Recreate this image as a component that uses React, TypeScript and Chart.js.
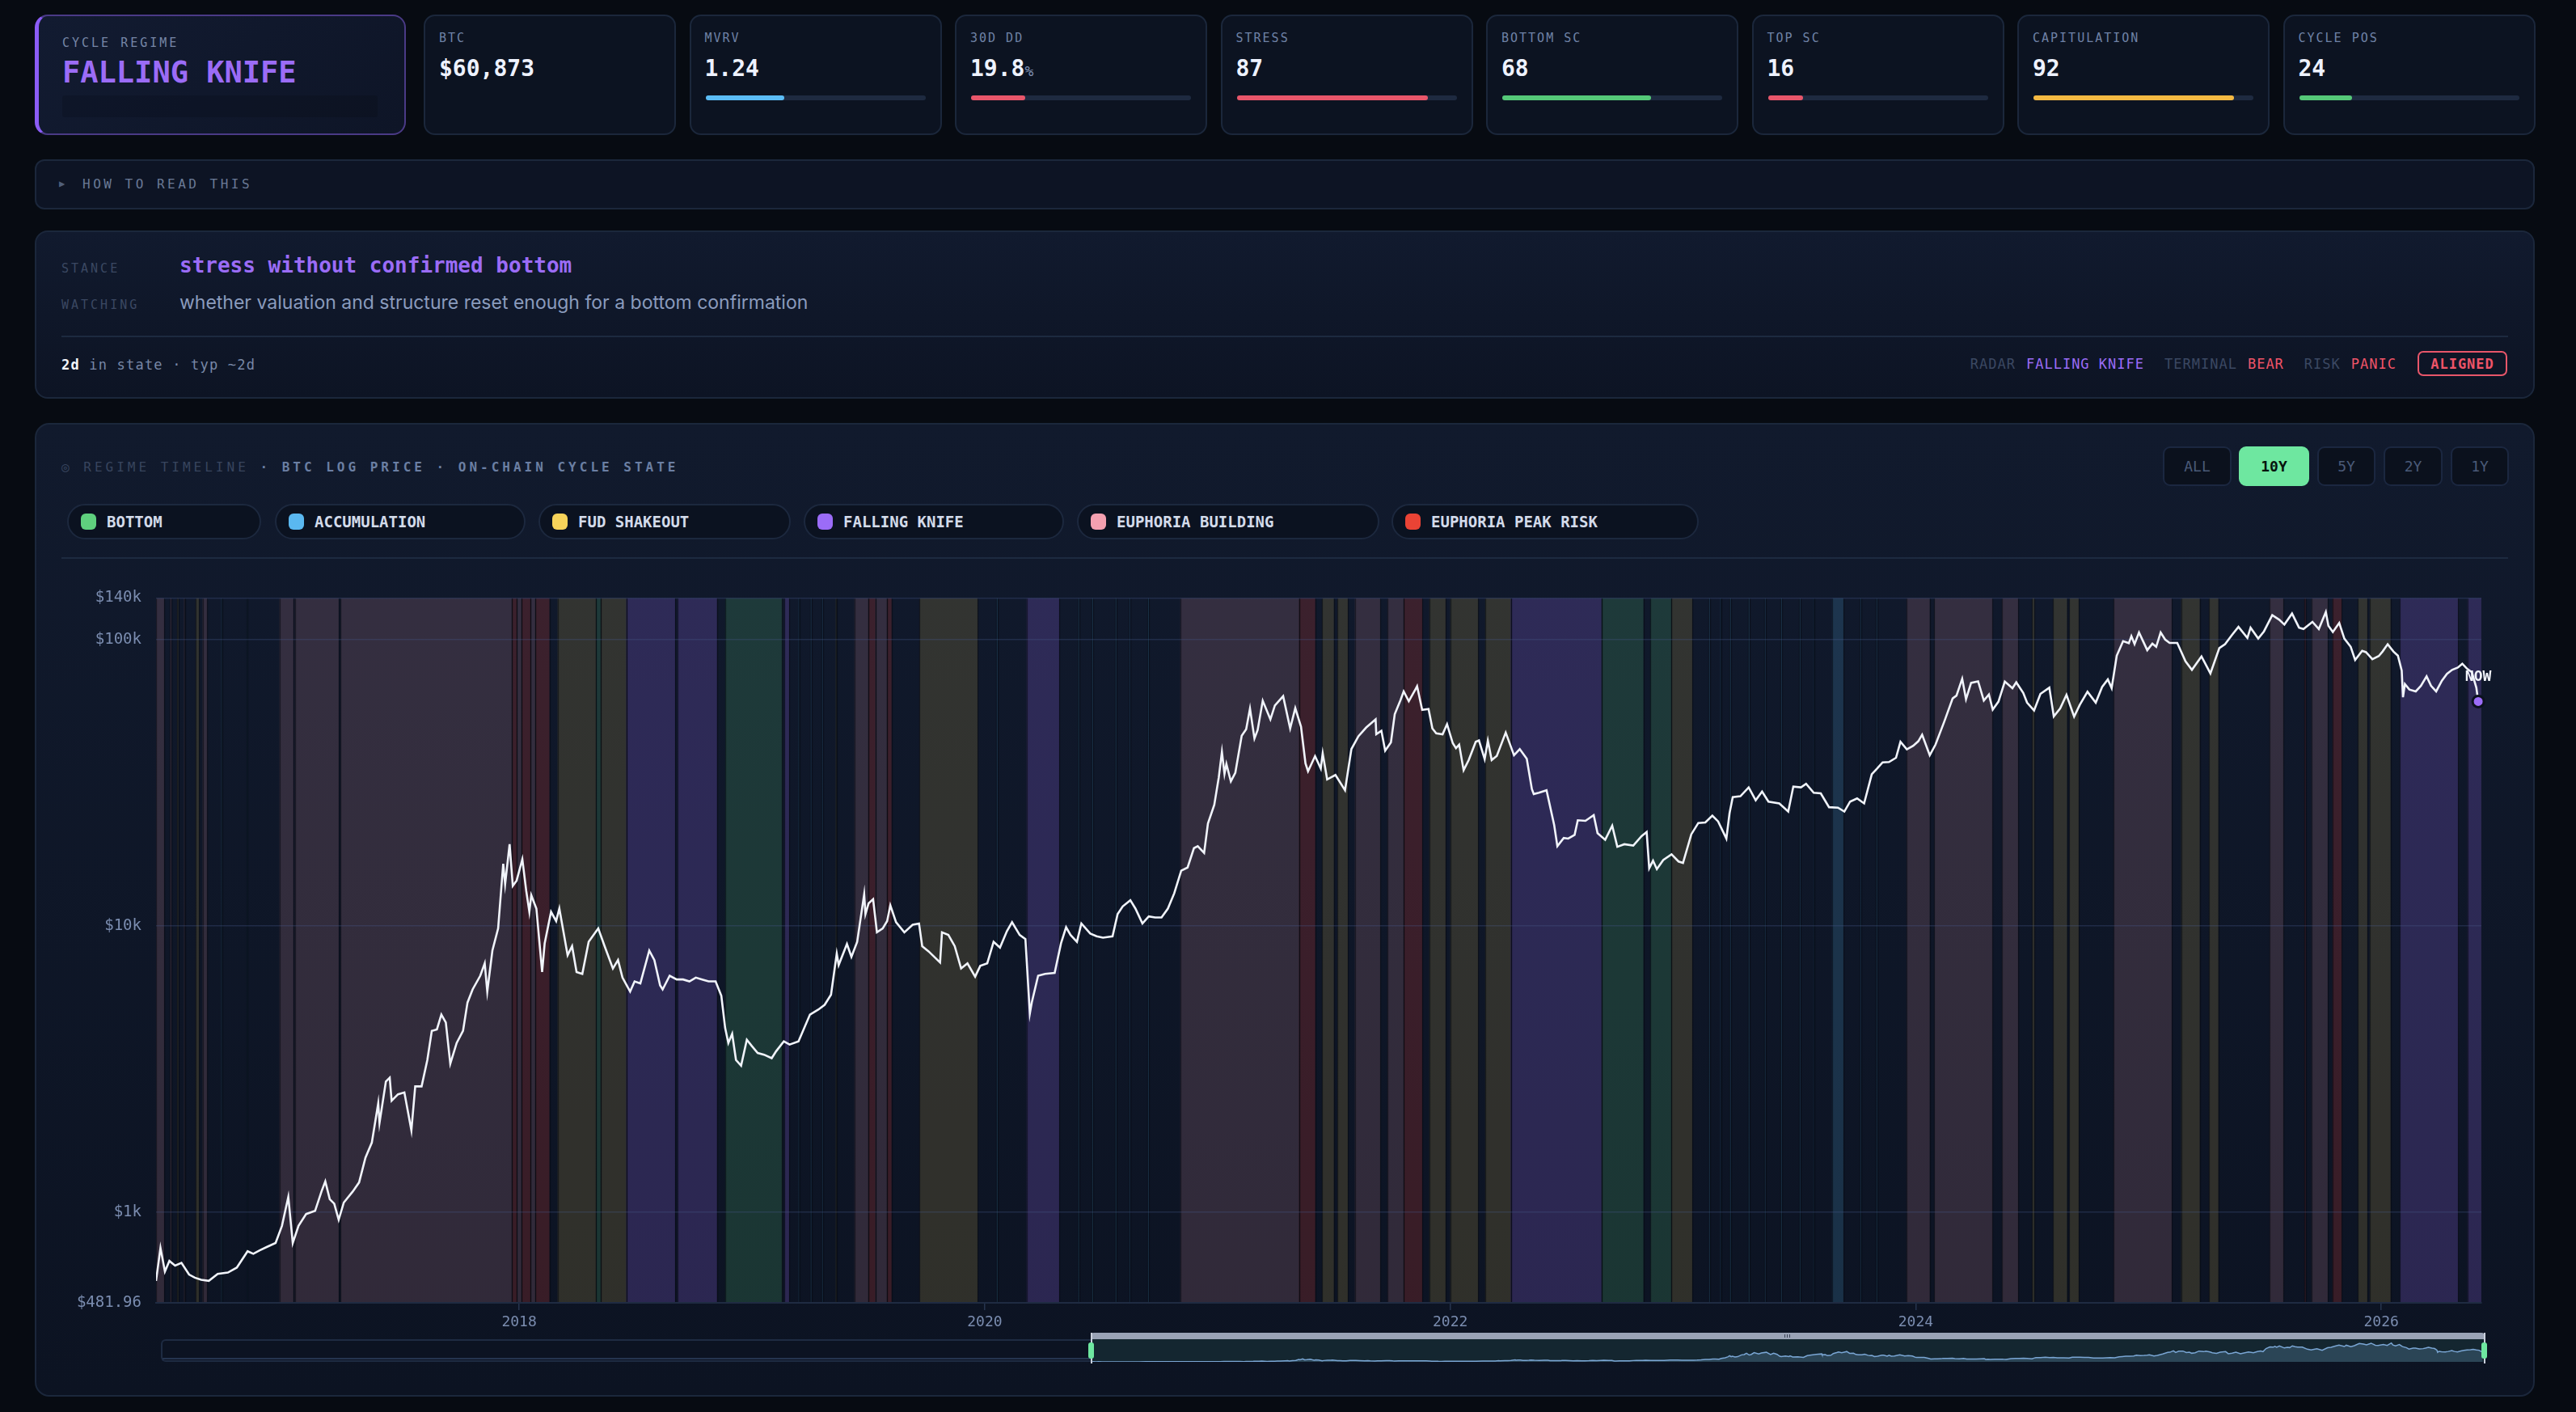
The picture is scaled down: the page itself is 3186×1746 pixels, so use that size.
import React, { useEffect, useRef } from "react";
import { Chart, registerables } from "chart.js";
Chart.register(...registerables);

const MONO = '"DejaVu Sans Mono", "Liberation Mono", monospace';
const SANS = 'Inter, "Noto Sans", sans-serif';

// ---------- data ----------
const regimeNames = ["BOTTOM", "ACCUMULATION", "FUD SHAKEOUT", "FALLING KNIFE", "EUPHORIA BUILDING", "EUPHORIA PEAK RISK"];
const regimeColors = ["#5fd07e", "#5ab8f0", "#f7d35a", "#9b6cf7", "#f4a0b0", "#ea4335"];
const regimeAlphas = [0.18, 0.18, 0.15, 0.22, 0.16, 0.2];

const metricLabels = ["BTC", "MVRV", "30D DD", "STRESS", "BOTTOM SC", "TOP SC", "CAPITULATION", "CYCLE POS"];
const metricValues = ["$60,873", "1.24", "19.8", "87", "68", "16", "92", "24"];
const metricSuffix = ["", "", "%", "", "", "", "", ""];
const metricFill = [0, 0.36, 0.245, 0.87, 0.675, 0.16, 0.91, 0.24];
const metricBarColors = ["", "#5bbcf5", "#e8566a", "#e8566a", "#55c878", "#e8566a", "#f5b942", "#55c878"];

const rangeButtons = ["ALL", "10Y", "5Y", "2Y", "1Y"];
const yTickValues = [481.96, 1000, 10000, 100000, 140000];
const xTickYears = [2018, 2020, 2022, 2024, 2026];

const priceDates = [
  "2016-06-10","2016-06-17","2016-06-24","2016-07-01","2016-07-10","2016-07-20","2016-08-01","2016-08-10","2016-08-20","2016-09-01","2016-09-15","2016-10-01","2016-10-15","2016-11-01","2016-11-10","2016-11-20","2016-12-01","2016-12-15","2016-12-25",
  "2017-01-04","2017-01-11","2017-01-20","2017-02-01","2017-02-15","2017-02-25","2017-03-03","2017-03-10","2017-03-17","2017-03-24","2017-04-01","2017-04-15","2017-04-25","2017-05-05","2017-05-15","2017-05-25","2017-05-27","2017-06-06","2017-06-12","2017-06-15","2017-06-25","2017-07-05","2017-07-16","2017-07-22","2017-08-01","2017-08-10","2017-08-17","2017-08-25","2017-09-01","2017-09-08","2017-09-15","2017-09-25","2017-10-05","2017-10-12","2017-10-20","2017-11-01","2017-11-08","2017-11-12","2017-11-20","2017-11-29","2017-12-07","2017-12-10","2017-12-17","2017-12-22","2017-12-28",
  "2018-01-06","2018-01-12","2018-01-17","2018-01-20","2018-01-28","2018-02-06","2018-02-10","2018-02-20","2018-02-28","2018-03-05","2018-03-18","2018-03-25","2018-04-01","2018-04-10","2018-04-20","2018-05-05","2018-05-15","2018-05-28","2018-06-05","2018-06-12","2018-06-24","2018-07-01","2018-07-10","2018-07-24","2018-08-01","2018-08-10","2018-08-14","2018-08-25","2018-09-05","2018-09-15","2018-09-25","2018-10-05","2018-10-15","2018-10-25","2018-11-05","2018-11-14","2018-11-20","2018-11-25","2018-12-01","2018-12-07","2018-12-15","2018-12-24",
  "2019-01-01","2019-01-10","2019-01-20","2019-02-01","2019-02-08","2019-02-20","2019-03-01","2019-03-15","2019-04-02","2019-04-15","2019-04-25","2019-05-05","2019-05-14","2019-05-17","2019-05-30","2019-06-06","2019-06-15","2019-06-26","2019-06-28","2019-07-03","2019-07-10","2019-07-16","2019-07-25","2019-08-01","2019-08-06","2019-08-15","2019-08-28","2019-09-10","2019-09-20","2019-09-25","2019-10-05","2019-10-23","2019-10-26","2019-11-05","2019-11-15","2019-11-25","2019-12-05","2019-12-17","2019-12-25",
  "2020-01-05","2020-01-15","2020-01-25","2020-02-05","2020-02-13","2020-02-25","2020-03-05","2020-03-12","2020-03-15","2020-03-25","2020-04-05","2020-04-20","2020-04-30","2020-05-08","2020-05-15","2020-05-25","2020-06-01","2020-06-15","2020-06-25","2020-07-05","2020-07-20","2020-07-28","2020-08-05","2020-08-17","2020-08-25","2020-09-05","2020-09-15","2020-09-25","2020-10-05","2020-10-15","2020-10-25","2020-11-05","2020-11-15","2020-11-25","2020-12-01","2020-12-11","2020-12-17","2020-12-27",
  "2021-01-03","2021-01-08","2021-01-12","2021-01-15","2021-01-22","2021-01-29","2021-02-08","2021-02-15","2021-02-21","2021-02-28","2021-03-05","2021-03-13","2021-03-25","2021-04-01","2021-04-14","2021-04-25","2021-05-03","2021-05-12","2021-05-19","2021-05-23","2021-06-03","2021-06-12","2021-06-15","2021-06-22","2021-07-05","2021-07-20","2021-07-30","2021-08-10","2021-08-22","2021-09-06","2021-09-07","2021-09-15","2021-09-21","2021-09-30","2021-10-06","2021-10-15","2021-10-20","2021-10-28","2021-11-08","2021-11-10","2021-11-18","2021-11-28","2021-12-04","2021-12-10","2021-12-20","2021-12-27",
  "2022-01-05","2022-01-10","2022-01-15","2022-01-22","2022-01-30","2022-02-10","2022-02-15","2022-02-24","2022-03-01","2022-03-07","2022-03-15","2022-03-29","2022-04-11","2022-04-20","2022-05-01","2022-05-09","2022-05-12","2022-05-20","2022-06-01","2022-06-13","2022-06-18","2022-06-28","2022-07-05","2022-07-15","2022-07-20","2022-08-01","2022-08-14","2022-08-20","2022-09-01","2022-09-12","2022-09-20","2022-10-01","2022-10-15","2022-10-28","2022-11-05","2022-11-09","2022-11-15","2022-11-21","2022-12-01","2022-12-14","2022-12-25",
  "2023-01-01","2023-01-14","2023-01-25","2023-02-05","2023-02-16","2023-02-25","2023-03-10","2023-03-15","2023-03-20","2023-04-01","2023-04-14","2023-04-25","2023-05-05","2023-05-15","2023-06-01","2023-06-15","2023-06-23","2023-07-05","2023-07-13","2023-07-25","2023-08-05","2023-08-18","2023-09-01","2023-09-11","2023-09-20","2023-10-01","2023-10-12","2023-10-24","2023-11-01","2023-11-10","2023-11-20","2023-12-01","2023-12-08","2023-12-18","2023-12-28",
  "2024-01-05","2024-01-11","2024-01-23","2024-02-01","2024-02-15","2024-02-28","2024-03-05","2024-03-14","2024-03-20","2024-03-28","2024-04-08","2024-04-17","2024-04-25","2024-05-01","2024-05-10","2024-05-20","2024-06-01","2024-06-07","2024-06-18","2024-06-24","2024-07-05","2024-07-15","2024-07-29","2024-08-05","2024-08-15","2024-08-25","2024-09-06","2024-09-15","2024-09-27","2024-10-10","2024-10-20","2024-10-29","2024-11-04","2024-11-12","2024-11-22","2024-12-01","2024-12-05","2024-12-10","2024-12-17","2024-12-30",
  "2025-01-07","2025-01-13","2025-01-20","2025-01-27","2025-02-03","2025-02-15","2025-02-28","2025-03-10","2025-03-25","2025-04-08","2025-04-22","2025-05-01","2025-05-12","2025-05-22","2025-06-05","2025-06-10","2025-06-22","2025-07-01","2025-07-14","2025-07-25","2025-08-02","2025-08-14","2025-08-25","2025-09-01","2025-09-15","2025-09-25","2025-10-06","2025-10-10","2025-10-17","2025-10-27","2025-11-04","2025-11-14","2025-11-21","2025-12-02","2025-12-08","2025-12-18","2025-12-28",
  "2026-01-03","2026-01-11","2026-01-20","2026-01-27","2026-02-02","2026-02-04","2026-02-07","2026-02-14","2026-02-24","2026-03-04","2026-03-13","2026-03-20","2026-03-28","2026-04-06","2026-04-14","2026-04-22","2026-05-01","2026-05-08","2026-05-16","2026-05-23","2026-05-30","2026-06-02"
];
const priceValues = [
  575,750,620,675,650,665,605,590,580,575,608,615,640,730,715,735,755,780,895,
  1130,780,895,985,1010,1180,1280,1110,1070,940,1080,1180,1270,1550,1750,2400,2050,2860,2950,2450,2580,2620,1930,2750,2750,3400,4300,4350,4900,4600,3300,3900,4300,5400,6000,6700,7400,5900,8200,9800,16500,14000,19300,13800,14400,
  17100,13300,11200,12800,11500,6900,8700,11200,10400,11500,7900,8500,6900,6800,8800,9800,8500,7100,7600,6600,5900,6400,6300,8200,7600,6200,6000,6700,6500,6500,6400,6600,6500,6400,6400,5700,4400,3900,4200,3400,3250,4000,
  3800,3600,3550,3450,3650,3950,3850,3950,4900,5100,5300,5750,8000,7300,8650,7800,8800,12900,11000,12000,12400,9500,9800,10400,11800,10300,9500,10100,10200,8500,8150,7450,9500,9300,8500,7100,7400,6650,7250,
  7400,8800,8400,9600,10300,9300,9000,4950,5400,6700,6800,6850,8700,9900,9300,8800,10200,9400,9200,9100,9200,11000,11700,12300,11500,10200,10800,10700,10700,11500,13000,15600,16000,18700,19000,18000,22800,26500,
  33000,40600,34000,36800,32000,34300,46200,48700,57500,45200,48400,61200,52700,58900,63500,49000,57700,49700,37000,34700,39200,35500,40100,32500,33700,29800,41500,46000,49300,52700,46800,48100,41000,43800,55000,61500,66000,61000,67500,68800,56900,57300,49000,47100,46700,50700,
  43500,41800,43000,35000,38000,44000,44500,38300,44400,38000,39300,47400,39500,41500,38400,30100,28900,29200,29800,22500,19000,20300,20200,20800,23400,23300,24400,21100,20000,22400,18900,19300,19100,20600,21300,15900,16900,15800,17000,17800,16800,
  16600,20900,22900,23000,24300,23200,20200,24800,28200,28400,30500,27500,29500,27200,26800,25100,30700,30500,31400,29200,29050,26000,25900,25100,27200,27900,26800,33900,35400,37300,37400,38700,44000,41400,42600,
  44200,46600,39500,43000,51900,62400,63800,73100,62000,70700,71600,61300,64400,57000,60800,71400,67700,71000,65200,60300,56600,64700,68000,54000,57500,64200,53900,59300,65800,60300,68400,72700,67800,88000,98900,97300,103000,96600,106000,92000,
  96900,94500,106000,100200,97500,97500,84000,78500,87500,76300,93500,96500,104000,111000,101500,110200,101000,107000,122000,117500,113000,123500,110200,109000,115500,109000,125000,112000,106500,114500,101000,94500,85000,91500,90500,85500,87700,
  91000,96500,91000,88000,78000,63000,70000,67000,66000,69000,74500,69000,66000,72000,76000,78500,80000,82500,79000,77000,68000,60873
];

// [start year, end year, regime index]
const regimeBands: [number, number, number][] = [
  [2016.440, 2016.475, 4], [2016.500, 2016.506, 4], [2016.530, 2016.536, 2], [2016.560, 2016.565, 4],
  [2016.610, 2016.625, 2], [2016.640, 2016.660, 4], [2016.720, 2016.726, 1], [2016.830, 2016.834, 1],
  [2016.970, 2017.030, 4], [2017.036, 2017.225, 4], [2017.233, 2017.970, 4], [2017.970, 2017.990, 5],
  [2017.990, 2018.010, 4], [2018.010, 2018.050, 5], [2018.050, 2018.070, 4], [2018.070, 2018.130, 5],
  [2018.165, 2018.330, 2], [2018.330, 2018.350, 0], [2018.350, 2018.460, 2], [2018.460, 2018.670, 3],
  [2018.680, 2018.850, 3], [2018.885, 2019.130, 0], [2019.140, 2019.160, 3], [2019.200, 2019.206, 1],
  [2019.250, 2019.256, 1], [2019.300, 2019.305, 1], [2019.360, 2019.365, 2], [2019.440, 2019.500, 4],
  [2019.500, 2019.530, 5], [2019.530, 2019.580, 4], [2019.580, 2019.600, 5], [2019.720, 2019.970, 2],
  [2020.050, 2020.056, 1], [2020.180, 2020.320, 3], [2020.400, 2020.406, 1], [2020.460, 2020.466, 1],
  [2020.560, 2020.566, 1], [2020.620, 2020.625, 1], [2020.700, 2020.706, 1], [2020.840, 2021.350, 4],
  [2021.350, 2021.420, 5], [2021.450, 2021.500, 2], [2021.515, 2021.560, 2], [2021.590, 2021.700, 4],
  [2021.730, 2021.800, 4], [2021.800, 2021.880, 5], [2021.910, 2021.980, 2], [2022.000, 2022.120, 2],
  [2022.150, 2022.260, 2], [2022.260, 2022.650, 3], [2022.650, 2022.830, 0], [2022.860, 2022.950, 0],
  [2022.950, 2023.040, 2], [2023.110, 2023.116, 1], [2023.160, 2023.165, 1], [2023.200, 2023.206, 1],
  [2023.280, 2023.286, 1], [2023.350, 2023.355, 1], [2023.420, 2023.426, 1], [2023.500, 2023.505, 1],
  [2023.560, 2023.565, 1], [2023.640, 2023.690, 1], [2023.760, 2023.765, 1], [2023.830, 2023.835, 1],
  [2023.960, 2024.060, 4], [2024.080, 2024.330, 4], [2024.370, 2024.440, 4], [2024.500, 2024.510, 2],
  [2024.590, 2024.650, 2], [2024.660, 2024.700, 2], [2024.850, 2025.100, 4], [2025.140, 2025.220, 2],
  [2025.260, 2025.300, 2], [2025.520, 2025.580, 4], [2025.670, 2025.675, 5], [2025.700, 2025.770, 4],
  [2025.790, 2025.830, 5], [2025.900, 2025.940, 2], [2025.950, 2026.040, 2], [2026.080, 2026.330, 3],
  [2026.370, 2026.430, 3]
];

const X_MIN = 2016.44;
const X_MAX = 2026.43;

// ---------- helpers ----------
function toYear(s: string): number {
  const [y, m, d] = s.split("-").map(Number);
  const a = Date.UTC(y, 0, 1);
  const b = Date.UTC(y + 1, 0, 1);
  return y + (Date.UTC(y, m - 1, d) - a) / (b - a);
}
function rgba(hex: string, a: number) {
  const n = parseInt(hex.slice(1), 16);
  return `rgba(${(n >> 16) & 255},${(n >> 8) & 255},${n & 255},${a})`;
}
function fmtPrice(v: number) {
  if (v >= 1000) return "$" + Math.round(v / 1000) + "k";
  return "$" + v.toFixed(2);
}

const bandsPlugin = {
  id: "regimeBands",
  beforeDraw(chart: any) {
    const { ctx, chartArea, scales } = chart;
    const { left, right, top, bottom } = chartArea;
    const x = scales.x;
    ctx.save();
    ctx.beginPath();
    ctx.rect(left, top, right - left, bottom - top);
    ctx.clip();
    regimeBands.forEach(([s, e, r]) => {
      const x0 = x.getPixelForValue(s);
      const x1 = x.getPixelForValue(e);
      ctx.fillStyle = rgba(regimeColors[r], regimeAlphas[r]);
      ctx.fillRect(x0, top, Math.max(1.2, x1 - x0), bottom - top);
    });
    ctx.strokeStyle = "rgba(6,9,16,0.55)";
    ctx.lineWidth = 1.2;
    regimeBands.forEach(([s, e]) => {
      [s, e].forEach((v) => {
        const px = Math.round(x.getPixelForValue(v)) + 0.5;
        ctx.beginPath();
        ctx.moveTo(px, top);
        ctx.lineTo(px, bottom);
        ctx.stroke();
      });
    });
    ctx.restore();
  },
};

const nowPlugin = {
  id: "nowMarker",
  afterDatasetsDraw(chart: any) {
    const meta = chart.getDatasetMeta(0);
    const last = meta.data[meta.data.length - 1];
    if (!last) return;
    const { ctx } = chart;
    ctx.save();
    ctx.beginPath();
    ctx.arc(last.x, last.y, 7, 0, Math.PI * 2);
    ctx.fillStyle = "#9b6cf7";
    ctx.fill();
    ctx.lineWidth = 3;
    ctx.strokeStyle = "#0b111d";
    ctx.stroke();
    ctx.font = `bold 18px ${MONO}`;
    ctx.fillStyle = "#f2f5fb";
    ctx.textAlign = "center";
    ctx.textBaseline = "middle";
    ctx.fillText("NOW", last.x, last.y - 30);
    ctx.restore();
  },
};

function PriceChart() {
  const ref = useRef<HTMLCanvasElement>(null);
  useEffect(() => {
    const pts = priceDates.map((d, i) => ({ x: toYear(d), y: priceValues[i] }));
    const chart = new Chart(ref.current as HTMLCanvasElement, {
      type: "line",
      data: {
        datasets: [
          {
            data: pts,
            borderColor: "#f1f4fb",
            borderWidth: 2.6,
            pointRadius: 0,
            tension: 0,
          },
        ],
      },
      options: {
        animation: false,
        responsive: false,
        devicePixelRatio: 1,
        layout: { padding: { top: 7, right: 31, left: 0, bottom: 0 } },
        plugins: { legend: { display: false }, tooltip: { enabled: false } },
        scales: {
          x: {
            type: "linear",
            min: X_MIN,
            max: X_MAX,
            afterBuildTicks: (s: any) => {
              s.ticks = xTickYears.map((v) => ({ value: v }));
            },
            afterFit: (s: any) => {
              s.height = 49;
            },
            ticks: {
              callback: (v: any) => String(v),
              color: "#7b8db0",
              font: { family: MONO, size: 18 },
              padding: 5,
              maxRotation: 0,
              autoSkip: false,
            },
            grid: { drawOnChartArea: false, drawTicks: true, tickLength: 9, color: "#26344e", lineWidth: 1.5 },
            border: { display: true, color: "#1f2b42", width: 2 },
          },
          y: {
            type: "logarithmic",
            min: 481.96,
            max: 140000,
            afterBuildTicks: (s: any) => {
              s.ticks = yTickValues.map((v) => ({ value: v }));
            },
            afterFit: (s: any) => {
              s.width = 133;
            },
            ticks: {
              callback: (v: any) => fmtPrice(Number(v)),
              color: "#7b8db0",
              font: { family: MONO, size: 19 },
              padding: 18,
              autoSkip: false,
            },
            grid: {
              drawTicks: false,
              color: (c: any) => (c.tick && c.tick.value === 481.96 ? "rgba(0,0,0,0)" : "rgba(70,90,140,0.32)"),
              lineWidth: 1.5,
            },
            border: { display: false },
          },
        },
      },
      plugins: [bandsPlugin, nowPlugin],
    } as any);
    return () => chart.destroy();
  }, []);
  return (
    <canvas
      ref={ref}
      width={3040}
      height={950}
      style={{ position: "absolute", left: 60, top: 710, width: 3040, height: 950 }}
    />
  );
}

function NavigatorChart() {
  const ref = useRef<HTMLCanvasElement>(null);
  useEffect(() => {
    const pts = priceDates.map((d, i) => ({ x: toYear(d), y: priceValues[i] }));
    const chart = new Chart(ref.current as HTMLCanvasElement, {
      type: "line",
      data: {
        datasets: [
          {
            data: pts,
            borderColor: "#7aa6d4",
            borderWidth: 1.5,
            backgroundColor: "#2b4556",
            fill: "origin",
            pointRadius: 0,
            tension: 0,
          },
        ],
      },
      options: {
        animation: false,
        responsive: false,
        devicePixelRatio: 1,
        layout: { padding: 0 },
        plugins: { legend: { display: false }, tooltip: { enabled: false } },
        scales: {
          x: { type: "linear", min: X_MIN, max: X_MAX, display: false },
          y: { type: "linear", min: 0, max: 150000, display: false },
        },
      },
    } as any);
    return () => chart.destroy();
  }, []);
  return (
    <canvas
      ref={ref}
      width={1724}
      height={28}
      style={{ position: "absolute", left: 1349, top: 1656, width: 1724, height: 28 }}
    />
  );
}

// ---------- layout ----------
const abs = (l: number, t: number, w?: number, h?: number): React.CSSProperties => ({
  position: "absolute",
  left: l,
  top: t,
  ...(w !== undefined ? { width: w } : {}),
  ...(h !== undefined ? { height: h } : {}),
});

const panelStyle: React.CSSProperties = {
  boxSizing: "border-box",
  border: "2px solid #1b273b",
  borderRadius: 14,
  background: "#0d1424",
};

const legendLefts = [38, 295, 621, 949, 1287, 1676];
const legendWidths = [240, 310, 312, 322, 374, 380];
const buttonLefts = [2630, 2724, 2821, 2903, 2986];
const buttonWidths = [85, 87, 72, 73, 72];

export default function App() {
  return (
    <div style={{ position: "absolute", left: 0, top: 0, width: 3186, height: 1746, background: "#070b12", overflow: "hidden", fontFamily: MONO }}>
      {/* regime card */}
      <div
        style={{
          ...abs(43, 18, 459, 149),
          boxSizing: "border-box",
          borderRadius: 16,
          border: "2px solid #4a3a86",
          borderLeft: "5px solid #8b5cf6",
          background: "linear-gradient(135deg, #121b31 0%, #0e1527 100%)",
        }}
      >
        <div style={{ ...abs(29, 26), fontSize: 15, lineHeight: "15px", letterSpacing: 3, color: "#7686a6", whiteSpace: "nowrap" }}>CYCLE REGIME</div>
        <div style={{ ...abs(29, 51), fontSize: 37, lineHeight: "37px", fontWeight: "bold", color: "#9b6cf7", whiteSpace: "nowrap" }}>FALLING KNIFE</div>
        <div style={{ ...abs(29, 98, 390, 27), background: "rgba(0,0,0,0.13)", borderRadius: 3 }} />
      </div>

      {/* metric cards */}
      {metricLabels.map((lab, i) => {
        const left = 524 + i * 328.5;
        return (
          <div key={lab} style={{ ...abs(left, 18, 312, 149), ...panelStyle, borderRadius: 14, background: "#0c1321" }}>
            <div style={{ ...abs(17, 20), fontSize: 15, lineHeight: "15px", letterSpacing: 2, color: "#6f82a6", whiteSpace: "nowrap" }}>{lab}</div>
            <div style={{ ...abs(17, 51), fontSize: 28, lineHeight: "28px", fontWeight: "bold", color: "#eef2ff", whiteSpace: "nowrap" }}>
              {metricValues[i]}
              {metricSuffix[i] ? <span style={{ fontSize: 18, fontWeight: "normal", color: "#8192b4" }}>{metricSuffix[i]}</span> : null}
            </div>
            {metricFill[i] > 0 ? (
              <div style={{ ...abs(18, 98, 272, 6), background: "#1e2a40", borderRadius: 3 }}>
                <div style={{ ...abs(0, 0, 272 * metricFill[i], 6), background: metricBarColors[i], borderRadius: 3 }} />
              </div>
            ) : null}
          </div>
        );
      })}

      {/* how to read */}
      <div style={{ ...abs(43, 197, 3092, 62), ...panelStyle, borderRadius: 12 }}>
        <div style={{ ...abs(28, 20), fontSize: 12, lineHeight: "16px", color: "#4f5f7a" }}>▶</div>
        <div style={{ ...abs(57, 21), fontSize: 16, lineHeight: "16px", letterSpacing: 3.5, color: "#6a7a96", whiteSpace: "nowrap" }}>HOW TO READ THIS</div>
      </div>

      {/* stance panel */}
      <div style={{ ...abs(43, 285, 3092, 208), ...panelStyle, borderRadius: 16, background: "linear-gradient(180deg, #111a2e 0%, #0d1424 100%)" }}>
        <div style={{ ...abs(31, 38), fontSize: 15, lineHeight: "15px", letterSpacing: 3, color: "#3b4862" }}>STANCE</div>
        <div style={{ ...abs(177, 28), fontSize: 26, lineHeight: "26px", fontWeight: "bold", color: "#9b6cf7", whiteSpace: "nowrap" }}>stress without confirmed bottom</div>
        <div style={{ ...abs(31, 83), fontSize: 15, lineHeight: "15px", letterSpacing: 3, color: "#3b4862" }}>WATCHING</div>
        <div style={{ ...abs(177, 76), fontFamily: SANS, fontSize: 23, lineHeight: "23px", color: "#8a9bbd", whiteSpace: "nowrap" }}>
          whether valuation and structure reset enough for a bottom confirmation
        </div>
        <div style={{ ...abs(31, 128, 3026, 2), background: "#1d2a40" }} />
        <div style={{ ...abs(31, 156), fontSize: 17, lineHeight: "17px", letterSpacing: 1.2, color: "#7888a6", whiteSpace: "nowrap" }}>
          <span style={{ color: "#f2f5fb", fontWeight: "bold" }}>2d</span> in state · typ ~2d
        </div>
        <div style={{ position: "absolute", right: 32, top: 147, height: 31, display: "flex", alignItems: "center", fontSize: 17, letterSpacing: 1, whiteSpace: "nowrap" }}>
          <span style={{ color: "#3b4862" }}>RADAR</span>
          <span style={{ color: "#9b6cf7", marginLeft: 13 }}>FALLING KNIFE</span>
          <span style={{ color: "#3b4862", marginLeft: 25 }}>TERMINAL</span>
          <span style={{ color: "#ef5468", marginLeft: 13 }}>BEAR</span>
          <span style={{ color: "#3b4862", marginLeft: 25 }}>RISK</span>
          <span style={{ color: "#ef5468", marginLeft: 13 }}>PANIC</span>
          <span
            style={{
              marginLeft: 26,
              width: 111,
              height: 31,
              boxSizing: "border-box",
              border: "2px solid #e8566a",
              borderRadius: 7,
              color: "#ef5468",
              fontWeight: "bold",
              display: "flex",
              alignItems: "center",
              justifyContent: "center",
              letterSpacing: 1,
            }}
          >
            ALIGNED
          </span>
        </div>
      </div>

      {/* timeline panel */}
      <div style={{ ...abs(43, 523, 3092, 1204), ...panelStyle, borderRadius: 18, background: "linear-gradient(180deg, #111a2d 0%, #0c1322 100%)" }}>
        <div style={{ ...abs(31, 45), fontSize: 16, lineHeight: "16px", letterSpacing: 4, whiteSpace: "nowrap" }}>
          <span style={{ color: "#38455e" }}>◎ REGIME TIMELINE</span>
          <span style={{ color: "#6b7fa3", fontWeight: "bold" }}> · BTC LOG PRICE · ON-CHAIN CYCLE STATE</span>
        </div>
        {rangeButtons.map((b, i) => (
          <div
            key={b}
            style={{
              ...abs(buttonLefts[i], 27, buttonWidths[i], 49),
              boxSizing: "border-box",
              borderRadius: 9,
              border: b === "10Y" ? "2px solid #6ee7a0" : "2px solid #1b2740",
              background: b === "10Y" ? "#6ee7a0" : "#0b111d",
              color: b === "10Y" ? "#07140d" : "#4a5a78",
              fontWeight: b === "10Y" ? "bold" : "normal",
              fontSize: 18,
              display: "flex",
              alignItems: "center",
              justifyContent: "center",
            }}
          >
            {b}
          </div>
        ))}
        {regimeNames.map((n, i) => (
          <div
            key={n}
            style={{
              ...abs(legendLefts[i], 98, legendWidths[i], 44),
              boxSizing: "border-box",
              borderRadius: 22,
              border: "2px solid #1c283e",
              background: "#0b1220",
              display: "flex",
              alignItems: "center",
            }}
          >
            <div style={{ width: 19, height: 20, borderRadius: 6, background: regimeColors[i], marginLeft: 15 }} />
            <div style={{ marginLeft: 13, fontSize: 19, fontWeight: "bold", color: "#d3dbea", whiteSpace: "nowrap" }}>{n}</div>
          </div>
        ))}
        <div style={{ ...abs(31, 164, 3026, 2), background: "#1d2a40" }} />
      </div>

      <PriceChart />

      {/* navigator */}
      <div style={{ ...abs(199, 1656, 1160, 28), boxSizing: "border-box", border: "2px solid #1e2b42", borderRight: "none", borderRadius: "6px 0 0 6px", background: "#0c1322" }}>
        <div style={{ ...abs(0, 21, 1160, 1.5), background: "#25344f" }} />
      </div>
      <div style={{ ...abs(1349, 1656, 1724, 28), background: "#142630" }} />
      <NavigatorChart />
      <div style={{ ...abs(1349, 1648, 1724, 8), background: "#9aa3b6", borderRadius: "4px 4px 0 0" }}>
        <div style={{ ...abs(858, 2, 1, 4), background: "#3a4256" }} />
        <div style={{ ...abs(861, 2, 1, 4), background: "#3a4256" }} />
        <div style={{ ...abs(864, 2, 1, 4), background: "#3a4256" }} />
      </div>
      <div style={{ ...abs(1349, 1648, 1.5, 38), background: "#c9d0dc" }} />
      <div style={{ ...abs(3072, 1648, 1.5, 38), background: "#c9d0dc" }} />
      <div style={{ ...abs(1346, 1660, 7, 20), background: "#6ee7a0", borderRadius: 3 }} />
      <div style={{ ...abs(3069, 1660, 7, 20), background: "#6ee7a0", borderRadius: 3 }} />
    </div>
  );
}
